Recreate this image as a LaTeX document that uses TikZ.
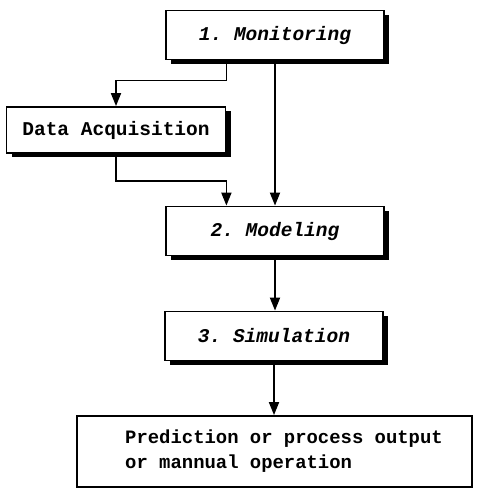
\documentclass[tikz,border=0pt]{standalone}
\usepackage{fontspec}
\setmonofont{Liberation Mono}
\usetikzlibrary{shadows,arrows.meta}
\begin{document}
\begin{tikzpicture}[x=1pt,y=-1pt,
  boxshadow/.style={drop shadow={shadow xshift=5pt, shadow yshift=-4pt,
    fill=black, opacity=1}},
  stage/.style={draw=black, line width=1.8pt, fill=white, minimum width=218pt,
    minimum height=49pt, inner sep=0pt, boxshadow,
    font=\ttfamily\bfseries\itshape\fontsize{19.5}{22}\selectfont},
  plainbox/.style={draw=black, line width=1.8pt, fill=white, inner sep=0pt,
    font=\ttfamily\bfseries\fontsize{19.5}{22}\selectfont},
  link/.style={draw=black, line width=1.8pt,
    -{Triangle[length=13pt,width=10pt]}}]
\useasboundingbox (0,0) rectangle (477,490);

% process stages
\node[stage] (mon) at (275,35) {1. Monitoring};
\node[plainbox, boxshadow, minimum width=219pt, minimum height=46pt]
  (acq) at (116,130) {Data Acquisition};
\node[stage] (mod) at (275,231) {2. Modeling};
\node[stage] (sim) at (274,336) {3. Simulation};
\node[plainbox, minimum width=395pt, minimum height=71pt,
  font=\ttfamily\bfseries\fontsize{18.9}{24}\selectfont]
  (out) at (274.5,451.5)
  {\hspace*{19pt}\begin{tabular}{@{}l@{}}Prediction or process output\\[1pt]or mannual operation\end{tabular}};

% connectors
\draw[link] (mon.south -| acq.east) -- ++(0,20) -| (acq.north);
\draw[link] (mon.south) -- (mod.north);
\draw[link] (acq.south) -- ++(0,27) -| (mod.north -| acq.east);
\draw[link] (mod.south) -- (mod.south |- sim.north);
\draw[link] (sim.south) -- (sim.south |- out.north);
\end{tikzpicture}
\end{document}
